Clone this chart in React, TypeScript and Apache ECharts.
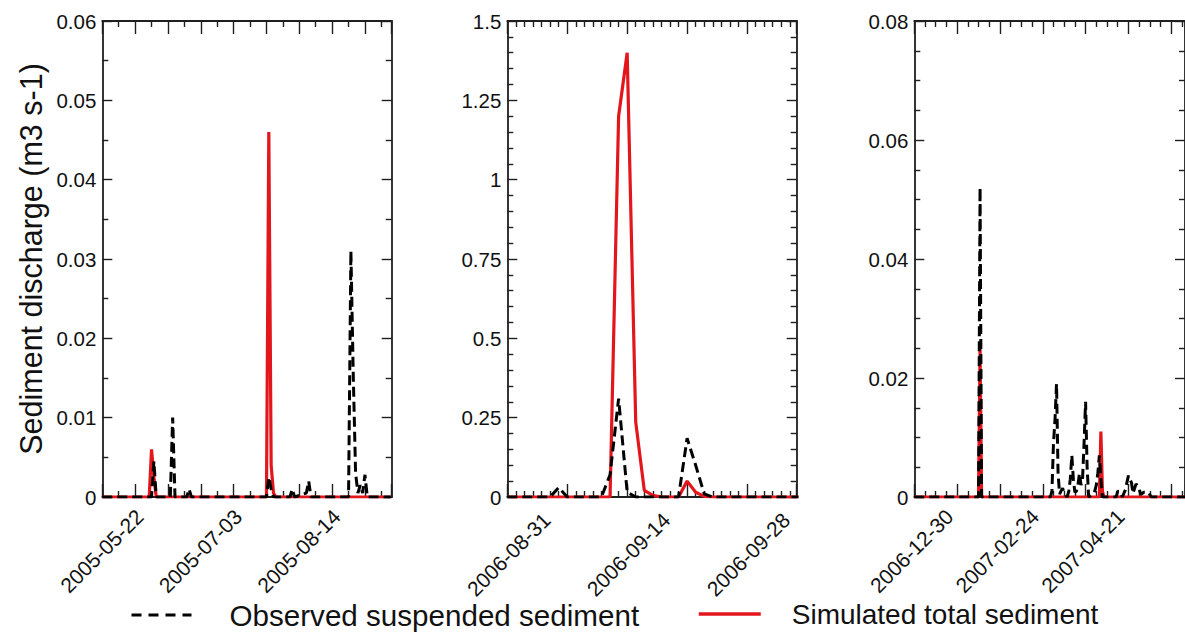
import React, { useEffect, useRef } from 'react';
import * as echarts from 'echarts';

const OBS_NAME = 'Observed suspended sediment';
const SIM_NAME = 'Simulated total sediment';
const Y_TITLE = 'Sediment discharge (m3 s-1)';

// ---------- Panel 1 (2005) ----------
const p1Start = '2005-05-06';
const p1SpanDays = 123.4;
const p1LabelDates = ['2005-05-22', '2005-07-03', '2005-08-14'];
const p1ObsDates = ['2005-05-06', '2005-05-27', '2005-05-28', '2005-05-29', '2005-06-04', '2005-06-05', '2005-06-06', '2005-06-11', '2005-06-12', '2005-06-13', '2005-07-15', '2005-07-16', '2005-07-17', '2005-07-18', '2005-07-25', '2005-07-26', '2005-07-27', '2005-08-01', '2005-08-02', '2005-08-03', '2005-08-19', '2005-08-20', '2005-08-21', '2005-08-22', '2005-08-23', '2005-08-24', '2005-08-25', '2005-08-26', '2005-08-27', '2005-09-06'];
const p1ObsValues = [0, 0, 0.0045, 0, 0, 0.01, 0, 0, 0.001, 0, 0, 0.0025, 0.001, 0, 0, 0.001, 0, 0.0005, 0.002, 0, 0, 0.031, 0.0155, 0.003, 0.0005, 0.0015, 0.0005, 0.0028, 0, 0];
const p1SimDates = ['2005-05-06', '2005-05-26', '2005-05-27', '2005-05-28', '2005-05-29', '2005-07-15', '2005-07-16', '2005-07-17', '2005-07-18', '2005-07-19', '2005-09-06'];
const p1SimValues = [0, 0, 0.006, 0.0025, 0, 0, 0.046, 0.004, 0.0005, 0, 0];

// ---------- Panel 2 (2006 Aug-Sep) ----------
const p2Start = '2006-08-26';
const p2SpanDays = 33.8;
const p2LabelDates = ['2006-08-31', '2006-09-14', '2006-09-28'];
const p2ObsDates = ['2006-08-26', '2006-08-31', '2006-09-01', '2006-09-02', '2006-09-06', '2006-09-07', '2006-09-08', '2006-09-09', '2006-09-10', '2006-09-15', '2006-09-16', '2006-09-17', '2006-09-18', '2006-09-19', '2006-09-29'];
const p2ObsValues = [0, 0, 0.03, 0, 0, 0.07, 0.31, 0.015, 0, 0, 0.185, 0.1, 0.01, 0, 0];
const p2SimDates = ['2006-08-26', '2006-09-07', '2006-09-08', '2006-09-09', '2006-09-10', '2006-09-11', '2006-09-12', '2006-09-13', '2006-09-15', '2006-09-16', '2006-09-17', '2006-09-18', '2006-09-19', '2006-09-29'];
const p2SimValues = [0, 0, 1.2, 1.4, 0.236, 0.021, 0.005, 0, 0, 0.05, 0.015, 0.002, 0, 0];

// ---------- Panel 3 (2006-2007) ----------
const p3Start = '2006-12-07';
const p3SpanDays = 177;
const p3LabelDates = ['2006-12-30', '2007-02-24', '2007-04-21'];
const p3ObsDates = ['2006-12-07', '2007-01-18', '2007-01-19', '2007-01-20', '2007-03-06', '2007-03-07', '2007-03-08', '2007-03-09', '2007-03-10', '2007-03-11', '2007-03-12', '2007-03-13', '2007-03-14', '2007-03-15', '2007-03-17', '2007-03-18', '2007-03-19', '2007-03-20', '2007-03-21', '2007-03-22', '2007-03-23', '2007-03-24', '2007-03-25', '2007-03-26', '2007-03-27', '2007-03-28', '2007-03-29', '2007-03-30', '2007-03-31', '2007-04-03', '2007-04-04', '2007-04-05', '2007-04-06', '2007-04-07', '2007-04-08', '2007-04-09', '2007-04-18', '2007-04-19', '2007-04-21', '2007-04-22', '2007-04-24', '2007-04-26', '2007-04-28', '2007-04-29', '2007-05-01', '2007-05-03', '2007-05-04', '2007-05-06', '2007-05-09', '2007-05-11', '2007-06-02'];
const p3ObsValues = [0, 0, 0.052, 0, 0, 0.001, 0.009, 0.013, 0.019, 0.004, 0.0005, 0.001, 0.0015, 0.0005, 0, 0.001, 0.003, 0.007, 0.003, 0.0008, 0.001, 0.002, 0.004, 0.002, 0.003, 0.009, 0.016, 0.005, 0, 0.0005, 0.001, 0.002, 0.004, 0.007, 0.003, 0, 0, 0.001, 0.0008, 0, 0.0012, 0.0036, 0.0024, 0.0006, 0.0022, 0.0015, 0.0004, 0.0008, 0.0008, 0, 0];
const p3SimDates = ['2006-12-07', '2007-01-18', '2007-01-19', '2007-01-20', '2007-04-07', '2007-04-08', '2007-04-09', '2007-04-10', '2007-06-02'];
const p3SimValues = [0, 0, 0.025, 0, 0, 0.011, 0.001, 0, 0];

const DAY = 86400000;
const toUTC = (s: string) => {
  const [y, m, d] = s.split('-').map(Number);
  return Date.UTC(y, m - 1, d);
};
const dayOffset = (s: string, start: string) => (toUTC(s) - toUTC(start)) / DAY;
const fmtDate = (v: number, start: string) =>
  new Date(toUTC(start) + Math.round(v) * DAY).toISOString().slice(0, 10);

const FONT = '"Liberation Sans", Arial, sans-serif';
const AXIS_COLOR = '#1f1f1f';
const RED = '#e3161c';

const panels = [
  { start: p1Start, span: p1SpanDays, labels: p1LabelDates, tickDays: 14, xMinor: 2, yMax: 0.06, yStep: 0.01, yMinor: 2, obsD: p1ObsDates, obsV: p1ObsValues, simD: p1SimDates, simV: p1SimValues, left: 102.3, labelPad: 0 },
  { start: p2Start, span: p2SpanDays, labels: p2LabelDates, tickDays: 7, xMinor: 7, yMax: 1.5, yStep: 0.25, yMinor: 5, obsD: p2ObsDates, obsV: p2ObsValues, simD: p2SimDates, simV: p2SimValues, left: 507.3, labelPad: 5 },
  { start: p3Start, span: p3SpanDays, labels: p3LabelDates, tickDays: 28, xMinor: 4, yMax: 0.08, yStep: 0.02, yMinor: 4, obsD: p3ObsDates, obsV: p3ObsValues, simD: p3SimDates, simV: p3SimValues, left: 914.3, labelPad: 0 },
];

function buildOption() {
  const grid: any[] = [];
  const xAxis: any[] = [];
  const yAxis: any[] = [];
  const series: any[] = [];
  const lineStyle = { color: AXIS_COLOR, width: 1.8 };
  const tickStyle = { color: AXIS_COLOR, width: 1.4 };

  panels.forEach((p, i) => {
    grid.push({ left: p.left, top: 21, width: 289.4, height: 476, containLabel: false });
    const xBase = {
      type: 'value',
      gridIndex: i,
      min: 0,
      max: p.span,
      interval: p.tickDays,
      axisLine: { show: true, onZero: false, lineStyle },
      axisTick: { show: true, inside: true, length: 13, lineStyle: tickStyle },
      minorTick: { show: true, splitNumber: p.xMinor, length: 6, lineStyle: tickStyle },
      splitLine: { show: false },
      minorSplitLine: { show: false },
    };
    const labelVals = p.labels.map((d) => dayOffset(d, p.start));
    xAxis.push({
      ...xBase,
      position: 'bottom',
      axisLabel: {
        show: true,
        customValues: labelVals,
        rotate: 45,
        margin: 16,
        fontSize: 21,
        color: '#111',
        fontFamily: FONT,
        padding: [0, p.labelPad, 0, 0],
        formatter: (v: number) => fmtDate(v, p.start),
      },
    });
    xAxis.push({ ...xBase, position: 'top', axisLabel: { show: false } });

    const yBase = {
      type: 'value',
      gridIndex: i,
      min: 0,
      max: p.yMax,
      interval: p.yStep,
      axisLine: { show: true, onZero: false, lineStyle },
      axisTick: { show: true, inside: true, length: 10, lineStyle: tickStyle },
      minorTick: { show: true, splitNumber: p.yMinor, length: 6, lineStyle: tickStyle },
      splitLine: { show: false },
      minorSplitLine: { show: false },
    };
    yAxis.push({
      ...yBase,
      position: 'left',
      axisLabel: { show: true, fontSize: 20.5, margin: 6, color: '#111', fontFamily: FONT },
      ...(i === 0
        ? {
            name: Y_TITLE,
            nameLocation: 'middle',
            nameRotate: 90,
            nameGap: 56,
            nameTextStyle: { fontSize: 30.5, color: '#111', fontFamily: FONT },
          }
        : {}),
    });
    yAxis.push({ ...yBase, position: 'right', axisLabel: { show: false } });

    series.push({
      type: 'line',
      name: SIM_NAME,
      xAxisIndex: 2 * i,
      yAxisIndex: 2 * i,
      data: p.simD.map((d, k) => [dayOffset(d, p.start), p.simV[k]]),
      symbol: 'none',
      showSymbol: false,
      lineStyle: { color: RED, width: 3.2 },
      itemStyle: { color: RED },
      z: 2,
    });
    series.push({
      type: 'line',
      name: OBS_NAME,
      xAxisIndex: 2 * i,
      yAxisIndex: 2 * i,
      data: p.obsD.map((d, k) => [dayOffset(d, p.start), p.obsV[k]]),
      symbol: 'none',
      showSymbol: false,
      lineStyle: { color: '#000', width: 3, type: [10, 5] },
      itemStyle: { color: '#000' },
      z: 3,
    });
  });

  return {
    animation: false,
    backgroundColor: '#fff',
    grid,
    xAxis,
    yAxis,
    series,
    legend: [
      {
        data: [OBS_NAME],
        left: 130,
        top: 600,
        padding: 0,
        itemWidth: 60,
        itemHeight: 14,
        selectedMode: false,
        itemStyle: { opacity: 0 },
        lineStyle: { width: 3, type: [10, 7] },
        textStyle: { fontSize: 29.6, color: '#111', fontFamily: FONT, padding: [0, 0, 0, 33] },
      },
      {
        data: [SIM_NAME],
        left: 697,
        top: 600,
        padding: 0,
        itemWidth: 62,
        itemHeight: 14,
        selectedMode: false,
        itemStyle: { opacity: 0 },
        lineStyle: { width: 3.5 },
        textStyle: { fontSize: 28, color: '#111', fontFamily: FONT, padding: [0, 0, 0, 26] },
      },
    ],
  };
}

export default function App() {
  const ref = useRef<HTMLDivElement>(null);
  useEffect(() => {
    if (!ref.current) return;
    const chart = echarts.init(ref.current, undefined, { renderer: 'svg' });
    chart.setOption(buildOption() as any);
    return () => chart.dispose();
  }, []);
  return (
    <div
      ref={ref}
      style={{ position: 'fixed', left: 0, top: 0, width: 1185, height: 636, background: '#fff' }}
    />
  );
}
